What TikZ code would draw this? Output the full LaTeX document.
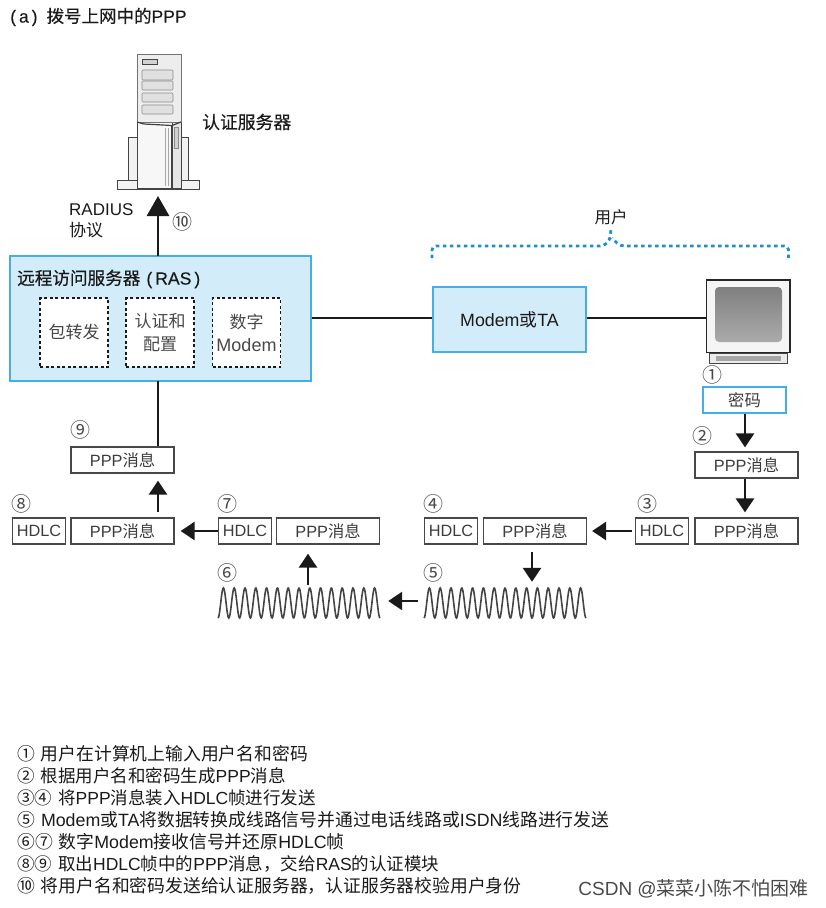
\documentclass[tikz,border=0pt]{standalone}
\usepackage{fontspec}
\setmainfont{Liberation Sans}
\newfontfamily\cjk{Noto Sans CJK SC}
\newfontfamily\cjkm[FakeBold=0.5]{Noto Sans CJK SC}
\newfontfamily\latm[FakeBold=0.3]{Liberation Sans}
\newcommand{\zh}[1]{{\cjk #1}}
\newcommand{\zm}[1]{{\cjkm #1}}
\usetikzlibrary{arrows.meta,calc}
\definecolor{panel}{HTML}{D3ECF9}
\definecolor{edgeblue}{HTML}{45AEE6}
\definecolor{dotblue}{HTML}{1E8FC8}
\definecolor{ink}{HTML}{1A1A1A}
\definecolor{gline}{HTML}{444444}
\definecolor{water}{HTML}{4A4A4A}
\tikzset{
  bluebox/.style={draw=edgeblue,line width=1.2pt,fill=panel,inner sep=0pt,text=ink},
  dashbox/.style={draw=ink,line width=1.3pt,dash pattern=on 3pt off 2.5pt,fill=white,inner sep=0pt,minimum width=68pt,minimum height=69pt,align=center,font=\fontsize{17}{23}\selectfont,text=ink!80},
  msgbox/.style={draw=ink!80,line width=1.3pt,fill=white,inner sep=0pt,minimum height=26pt,font=\fontsize{16.3}{18}\selectfont,text=ink!85},
  pppbox/.style={msgbox,minimum width=103pt},
  hdlcbox/.style={msgbox,minimum width=53pt},
  pwdbox/.style={msgbox,draw=edgeblue,minimum width=83pt},
  num/.style={inner sep=0pt,font=\fontsize{20}{20}\selectfont,text=ink!80},
  label/.style={inner sep=0pt,anchor=west,text=ink,font=\fontsize{17}{18}\selectfont},
  note/.style={inner sep=0pt,anchor=west,text=ink,font=\fontsize{17.5}{18}\selectfont},
  widenote/.style={note,font=\fontsize{17.8}{18}\selectfont},
  conn/.style={draw=ink,line width=2.8pt},
  flow/.style={conn,-{Triangle[width=18pt,length=14pt]},shorten <=0pt,shorten >=0pt},
  wave/.style={draw=gline,line width=1.6pt},
  device/.style={draw=gline,line width=0.9pt,fill=white},
  bracket/.style={draw=dotblue,line width=2.8pt,dash pattern=on 3.5pt off 3.5pt,rounded corners=4pt},
}
\begin{document}
\begin{tikzpicture}[x=1pt,y=-1pt]
\useasboundingbox (0,0) rectangle (825,908);

% title
\node[label,font=\fontsize{17.5}{18}\selectfont] (title) at (10,17) {{\latm (\hspace{3pt}a\hspace{3pt})}\hspace{9pt}\zm{拨号上网中的}{\latm PPP}};

% server
\draw[device,fill=black!5] (128,182) -- (128,137) -- (137,137) -- (137,182) -- cycle;
\draw[device,fill=black!5] (188,182) -- (188,137) -- (181,137) -- (181,182) -- cycle;
\draw[device,fill=black!5] (117,180) rectangle (199,189);
\draw[device,fill=black!3] (137,122) rectangle (172,188);
\draw[device,fill=black!10] (172,122) rectangle (181,188);
\draw[device,fill=black!7,draw=black!55] (137,54) rectangle (181,122);
\draw[draw=black!75,line width=1.2pt] (137,122) -- (144,124) -- (172,125.5) -- (181,122);
\draw[device,fill=black!18] (142,59) rectangle (157,64);
\foreach \yy/\hh in {70/10,81/9,93/9,105/9}{\draw[draw=black!45,line width=.7pt,fill=black!12,rounded corners=1pt] (142,\yy) rectangle (173,\yy+\hh);}
\draw[draw=black!35,line width=0.7pt] (165,128) -- (165,186);
\draw[draw=black!35,line width=0.7pt] (168,128) -- (168,186);
\draw[draw=black!75,line width=1pt] (171.5,125) -- (171.5,188);
\draw[draw=black!45,fill=black!18,line width=.5pt] (174,127) rectangle (178,148);
\coordinate (serverfoot) at (158,196);
\node[label,font=\fontsize{17.8}{18}\selectfont] (authlabel) at (202,122) {\zm{认证服务器}};

% main boxes
\node[bluebox,minimum width=301pt,minimum height=125pt] (ras) at (160.5,318.5) {};
\node[inner sep=0pt,anchor=west,text=ink,font=\fontsize{17.6}{18}\selectfont] (raslabel) at (17,279) {\zm{远程访问服务器}\hspace{6pt}{\latm (\hspace{3pt}RAS\hspace{3pt})}};
\node[dashbox] (pkt) at (74,332.5) {\zh{包转发}};
\node[dashbox] (auth) at (160,332.5) {\zh{认证和}\\\zh{配置}};
\node[dashbox] (dmod) at (246.5,332.5) {\zh{数字}\\{\fontsize{18}{23}\selectfont Modem}};
\node[bluebox,minimum width=153pt,minimum height=65pt,font=\fontsize{17.8}{18}\selectfont] (modem) at (509.5,319.5) {Modem\zh{或}TA};

% monitor
\draw[device,fill=black!8] (709,353) rectangle (787,363);
\fill[black!35] (716,356) -- (781,356) -- (781,361) -- (716,361) -- cycle;
\draw[device,draw=black!85,fill=black!4,line width=1.2pt] (706.5,280) rectangle (790,352.5);
\shade[top color=black!50,bottom color=black!33,rounded corners=4pt] (715,287) rectangle (782,342);
\coordinate (screen) at (706,318);

% user brace
\node[inner sep=0pt,font=\fontsize{16.5}{18}\selectfont,text=ink] (userlabel) at (611,217) {\zh{用户}};
\coordinate (bl) at (432,258);
\coordinate (br) at (788.5,258);
\coordinate (bt) at (611,229);
\draw[bracket] (bl) -- (432,246) -- (604,246) -- (610,240) -- (bt);
\draw[bracket] (br) -- (788.5,246) -- (620,246) -- (612,238);

% message boxes
\node[pwdbox] (pwd) at (744.5,400) {\zh{密码}};
\node[pppbox] (m2) at (746.5,465) {PPP\zh{消息}};
\node[pppbox] (m3) at (746.5,531) {PPP\zh{消息}};
\node[hdlcbox] (h3) at (662,531) {HDLC};
\node[pppbox] (m4) at (535,531) {PPP\zh{消息}};
\node[hdlcbox] (h4) at (451,531) {HDLC};
\node[pppbox] (m7) at (328,531) {PPP\zh{消息}};
\node[hdlcbox] (h7) at (245,531) {HDLC};
\node[pppbox] (m8) at (122.5,531) {PPP\zh{消息}};
\node[hdlcbox] (h8) at (39,531) {HDLC};
\node[pppbox] (m9) at (122.5,460) {PPP\zh{消息}};

% waves
\node[minimum width=162pt,minimum height=32pt,inner sep=0pt] (w6) at (299,603) {};
\node[minimum width=162pt,minimum height=32pt,inner sep=0pt] (w5) at (505,603) {};
\draw[wave] plot[domain=0:162,samples=300,smooth] ({218+\x},{603+15*cos(\x*33.33)});
\draw[wave] plot[domain=0:162,samples=300,smooth] ({424+\x},{603+15*cos(\x*33.33)});

% connectors
\draw[conn] (ras.east |- screen) -- (modem.west |- screen);
\draw[conn] (modem.east |- screen) -- (screen);
\coordinate (rasup) at (158,256);
\coordinate (rasdown) at (158,381);
\draw[conn,-{Triangle[width=22pt,length=20pt]}] (rasup) -- (serverfoot);
\draw[conn] (rasdown) -- (rasdown |- m9.north);
\coordinate (a1) at (745,414);
\draw[flow] (a1) -- ($(a1 |- m2.north)+(0,-4)$);
\coordinate (a2) at (745,479);
\draw[flow] (a2) -- ($(a2 |- m3.north)+(0,-5)$);
\draw[flow] ($(h3.west)+(-3,0)$) -- ($(m4.east)+(5,0)$);
\coordinate (a4) at (532,552);
\draw[flow] (a4) -- ($(a4 |- w5.north)+(0,-5)$);
\coordinate (a5) at ($(w5.west)+(-6,-2)$);
\draw[flow] (a5) -- ($(w6.east)+(8,-2)$);
\coordinate (a6) at (308,585);
\draw[flow] (a6) -- ($(a6 |- m7.south)+(0,9)$);
\draw[flow] (h7.west) -- ($(m8.east)+(6,0)$);
\coordinate (a8) at (158,512);
\draw[flow] (a8) -- ($(a8 |- m9.south)+(0,7)$);

% side labels
\node[label] (radius) at (69,210) {RADIUS};
\node[label] (proto) at (69,230) {\zh{协议}};
\node[num] (n10) at (182,222) {\zh{⑩}};
\node[num] (n1) at (712,375) {\zh{①}};
\node[num] (n2) at (702,436) {\zh{②}};
\node[num] (n3) at (647,504) {\zh{③}};
\node[num] (n4) at (433,504) {\zh{④}};
\node[num] (n5) at (433,573) {\zh{⑤}};
\node[num] (n6) at (227,573) {\zh{⑥}};
\node[num] (n7) at (227,504) {\zh{⑦}};
\node[num] (n8) at (22,504) {\zh{⑧}};
\node[num] (n9) at (80,430) {\zh{⑨}};

% notes
\node[widenote] (t1) at (17,754) {\zh{①}\hspace{6pt}\zh{用户在计算机上输入用户名和密码}};
\node[note] (t2) at (17,776) {\zh{②}\hspace{6pt}\zh{根据用户名和密码生成}PPP\zh{消息}};
\node[note] (t3) at (17,798) {\zh{③④}\hspace{6pt}\zh{将}PPP\zh{消息装入}HDLC\zh{帧进行发送}};
\node[widenote] (t4) at (17,820) {\zh{⑤}\hspace{6pt}Modem\zh{或}TA\zh{将数据转换成线路信号并通过电话线路或}ISDN\zh{线路进行发送}};
\node[widenote] (t5) at (17,842) {\zh{⑥⑦}\hspace{6pt}\zh{数字}Modem\zh{接收信号并还原}HDLC\zh{帧}};
\node[note] (t6) at (17,864) {\zh{⑧⑨}\hspace{6pt}\zh{取出}HDLC\zh{帧中的}PPP\zh{消息，交给}RAS\zh{的认证模块}};
\node[widenote] (t7) at (17,886) {\zh{⑩}\hspace{6pt}\zh{将用户名和密码发送给认证服务器，认证服务器校验用户身份}};
\node[inner sep=0pt,anchor=east,text=water,font=\fontsize{19}{20}\selectfont] (mark) at (809,889) {CSDN @\zh{菜菜小陈不怕困难}};
\end{tikzpicture}
\end{document}
